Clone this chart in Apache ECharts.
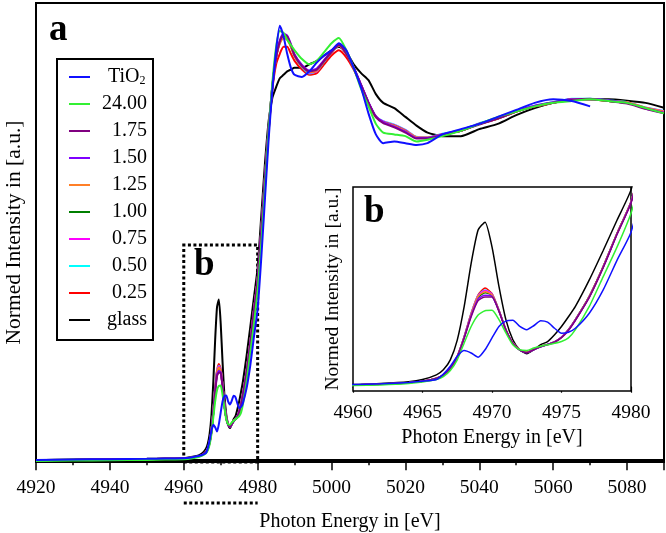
<!DOCTYPE html>
<html>
<head>
<meta charset="utf-8">
<script src="https://cdn.jsdelivr.net/npm/echarts@6/dist/echarts.min.js"></script>
<style>html,body{margin:0;padding:0;background:#fff}#c{width:666px;height:533px}</style>
</head>
<body>
<div id="c"></div>
<script>
// Photon energy grid (eV)
const energy = [4920,4930,4940,4950,4955,4960,4962,4964,4965,4966,4966.5,4967,4967.5,4968,4968.5,4969,4969.5,4970,4970.5,4971,4971.5,4972,4972.5,4973,4973.5,4974,4974.5,4975,4975.5,4976,4977,4978,4979,4980,4981,4982,4983,4984,4985,4986,4987,4988,4989,4990,4992,4994,4996,4998,5000,5002,5004,5006,5008,5010,5012,5014,5017,5020,5023,5026,5030,5035,5040,5045,5050,5055,5060,5065,5070,5075,5080,5085,5090];

const seriesNames = ['TiO2','24.00','1.75','1.50','1.25','1.00','0.75','0.50','0.25','glass'];
const seriesColors = ['#1010ff','#33f033','#800080','#7f00ff','#ff7f27','#007f00','#ff00ff','#00ffff','#ff0000','#000000'];

const tio2 = [0.001,0.002,0.003,0.004,0.005,0.006,0.008,0.012,0.015,0.020,0.035,0.057,0.085,0.101,0.094,0.082,0.103,0.136,0.168,0.183,0.185,0.168,0.159,0.170,0.184,0.180,0.163,0.149,0.152,0.163,0.205,0.270,0.353,0.431,0.580,0.750,0.920,1.060,1.170,1.240,1.210,1.160,1.120,1.100,1.094,1.110,1.135,1.155,1.170,1.190,1.170,1.120,1.063,0.990,0.930,0.905,0.910,0.905,0.900,0.905,0.930,0.945,0.960,0.980,1.000,1.020,1.030,1.025,1.010,null,null,null,null];
const s2400 = [-0.002,-0.001,0.000,0.001,0.002,0.003,0.005,0.009,0.013,0.020,0.028,0.045,0.075,0.122,0.168,0.200,0.212,0.213,0.187,0.150,0.117,0.103,0.101,0.108,0.113,0.117,0.121,0.126,0.136,0.159,0.224,0.307,0.390,0.484,0.620,0.780,0.940,1.080,1.180,1.225,1.220,1.200,1.185,1.170,1.145,1.130,1.140,1.165,1.190,1.205,1.170,1.120,1.060,1.010,0.960,0.935,0.930,0.925,0.910,0.915,0.925,0.940,0.960,0.980,0.995,1.010,1.020,1.025,1.030,1.025,1.020,1.005,0.990];
const s175 = [0.000,0.001,0.002,0.003,0.004,0.005,0.007,0.011,0.015,0.023,0.032,0.050,0.082,0.135,0.195,0.240,0.250,0.250,0.210,0.158,0.121,0.102,0.095,0.103,0.111,0.117,0.124,0.137,0.157,0.185,0.249,0.332,0.425,0.512,0.655,0.805,0.945,1.065,1.150,1.195,1.215,1.210,1.185,1.155,1.125,1.110,1.115,1.140,1.165,1.185,1.160,1.120,1.070,1.020,0.980,0.962,0.950,0.935,0.918,0.918,0.928,0.940,0.958,0.975,0.995,1.010,1.020,1.028,1.032,1.025,1.018,1.003,0.990];
const s150 = [0.000,0.001,0.002,0.003,0.004,0.005,0.007,0.011,0.015,0.023,0.032,0.051,0.083,0.137,0.198,0.245,0.255,0.252,0.211,0.158,0.121,0.102,0.095,0.103,0.111,0.118,0.125,0.138,0.158,0.186,0.250,0.333,0.426,0.514,0.658,0.808,0.948,1.068,1.152,1.198,1.218,1.212,1.188,1.158,1.128,1.112,1.118,1.142,1.168,1.188,1.162,1.122,1.072,1.022,0.982,0.965,0.952,0.938,0.920,0.920,0.930,0.942,0.960,0.977,0.997,1.012,1.022,1.030,1.030,1.027,1.020,1.004,0.992];
const s125 = [0.000,0.001,0.002,0.003,0.004,0.005,0.007,0.011,0.015,0.024,0.033,0.052,0.084,0.139,0.202,0.252,0.265,0.256,0.213,0.159,0.122,0.103,0.096,0.104,0.112,0.118,0.125,0.138,0.159,0.187,0.252,0.335,0.428,0.516,0.660,0.810,0.950,1.070,1.150,1.190,1.205,1.200,1.180,1.152,1.124,1.108,1.112,1.140,1.166,1.184,1.160,1.120,1.070,1.020,0.980,0.965,0.955,0.940,0.922,0.921,0.930,0.940,0.960,0.975,0.995,1.010,1.020,1.030,1.030,1.025,1.022,1.006,0.995];
const s100 = [0.000,0.001,0.002,0.003,0.004,0.005,0.007,0.011,0.015,0.024,0.033,0.052,0.084,0.138,0.200,0.249,0.262,0.255,0.212,0.158,0.121,0.102,0.096,0.104,0.112,0.118,0.125,0.138,0.159,0.187,0.252,0.335,0.428,0.515,0.660,0.810,0.950,1.070,1.150,1.192,1.210,1.205,1.182,1.155,1.126,1.108,1.113,1.140,1.166,1.185,1.160,1.120,1.070,1.020,0.980,0.965,0.955,0.940,0.920,0.920,0.930,0.940,0.960,0.975,0.995,1.010,1.020,1.030,1.030,1.025,1.020,1.005,0.993];
const s075 = [0.000,0.001,0.002,0.003,0.004,0.005,0.007,0.011,0.015,0.024,0.033,0.052,0.085,0.140,0.204,0.254,0.268,0.258,0.213,0.159,0.122,0.103,0.096,0.104,0.112,0.118,0.125,0.138,0.159,0.187,0.252,0.335,0.428,0.516,0.660,0.810,0.950,1.070,1.150,1.195,1.212,1.208,1.184,1.155,1.125,1.106,1.110,1.140,1.165,1.185,1.160,1.120,1.070,1.020,0.980,0.967,0.957,0.942,0.922,0.921,0.931,0.941,0.961,0.976,0.996,1.011,1.021,1.031,1.031,1.026,1.021,1.006,0.996];
const s050 = [0.000,0.001,0.002,0.003,0.004,0.005,0.007,0.011,0.015,0.024,0.033,0.052,0.085,0.140,0.205,0.255,0.270,0.258,0.214,0.159,0.122,0.103,0.096,0.104,0.112,0.118,0.125,0.138,0.159,0.187,0.252,0.335,0.428,0.516,0.660,0.810,0.950,1.070,1.150,1.195,1.212,1.205,1.182,1.152,1.122,1.104,1.110,1.138,1.164,1.184,1.160,1.120,1.070,1.020,0.980,0.968,0.958,0.943,0.923,0.922,0.932,0.942,0.962,0.977,0.997,1.012,1.022,1.032,1.032,1.027,1.022,1.007,0.997];
const s025 = [0.000,0.001,0.002,0.003,0.004,0.005,0.007,0.011,0.015,0.024,0.033,0.052,0.085,0.140,0.205,0.256,0.275,0.260,0.214,0.159,0.122,0.103,0.096,0.104,0.112,0.118,0.125,0.138,0.159,0.187,0.252,0.335,0.428,0.516,0.655,0.800,0.940,1.060,1.130,1.160,1.180,1.180,1.160,1.140,1.115,1.100,1.105,1.130,1.155,1.170,1.150,1.115,1.070,1.020,0.980,0.965,0.955,0.940,0.920,0.920,0.930,0.940,0.960,0.975,0.995,1.010,1.020,1.030,1.030,1.025,1.020,1.005,0.995];
const glass = [0.000,0.002,0.003,0.004,0.005,0.006,0.009,0.014,0.020,0.033,0.047,0.075,0.130,0.224,0.344,0.437,0.459,0.390,0.280,0.187,0.131,0.103,0.092,0.103,0.117,0.126,0.145,0.168,0.195,0.224,0.298,0.380,0.465,0.549,0.700,0.850,0.970,1.035,1.065,1.090,1.100,1.110,1.115,1.120,1.120,1.130,1.140,1.155,1.170,1.180,1.165,1.130,1.105,1.085,1.045,1.020,1.005,0.980,0.955,0.935,0.925,0.925,0.945,0.960,0.985,1.005,1.020,1.030,1.030,1.030,1.026,1.020,1.006];

const seriesValues = [tio2, s2400, s175, s150, s125, s100, s075, s050, s025, glass];

const mainTicks = {min: 4920, max: 5090, interval: 20};
const insetTicks = {min: 4960, max: 4980, interval: 5};

const FONT = '"Liberation Serif", "Times New Roman", serif';
const chart = echarts.init(document.getElementById('c'), null, {renderer: 'canvas'});

const series = [];
// draw in reverse legend order so TiO2 is on top
for (let k = seriesNames.length - 1; k >= 0; k--) {
  const pts = energy.map((x, i) => [x, seriesValues[k][i]]);
  series.push({
    name: seriesNames[k], type: 'line', xAxisIndex: 0, yAxisIndex: 0,
    data: pts, showSymbol: false, smooth: 0.2, connectNulls: false,
    lineStyle: {color: seriesColors[k], width: 2}, itemStyle: {color: seriesColors[k]},
    emphasis: {disabled: true}, z: 3
  });
  series.push({
    name: seriesNames[k], type: 'line', xAxisIndex: 1, yAxisIndex: 1,
    data: pts, showSymbol: false, smooth: 0.2, clip: true,
    lineStyle: {color: seriesColors[k], width: 1.5}, itemStyle: {color: seriesColors[k]},
    emphasis: {disabled: true}, z: 5
  });
}
// dotted zoom box on the main plot
series.push({
  type: 'line', xAxisIndex: 0, yAxisIndex: 0, data: [], silent: true,
  markArea: {
    silent: true,
    itemStyle: {color: 'rgba(0,0,0,0)', borderColor: '#000', borderWidth: 3, borderType: [3, 2.5]},
    data: [[{coord: [4960, -0.005]}, {coord: [4980, 0.614]}]]
  }
});

const legendLabel = n => n === 'TiO2' ? '{t|TiO}{s|2}' : '{v|' + n + '}';
const plain = v => String(v);

chart.setOption({
  animation: false,
  backgroundColor: '#fff',
  grid: [
    {left: 36, right: 2, top: 3, bottom: 71, outerBoundsMode: 'none', containLabel: false,
     show: true, borderColor: '#000', borderWidth: 2, backgroundColor: 'rgba(0,0,0,0)'},
    {left: 353, right: 35, top: 187, bottom: 142, outerBoundsMode: 'none', containLabel: false,
     show: true, borderColor: '#000', borderWidth: 1.5, backgroundColor: '#fff', z: 4}
  ],
  xAxis: [
    {type: 'value', gridIndex: 0, min: mainTicks.min, max: mainTicks.max, interval: mainTicks.interval,
     axisLine: {show: true, lineStyle: {color: '#000', width: 2}},
     axisTick: {show: true, length: 10, lineStyle: {color: '#000', width: 1.5}},
     minorTick: {show: true, splitNumber: 2, length: 5, lineStyle: {color: '#000', width: 1.5}},
     splitLine: {show: false},
     axisLabel: {color: '#000', fontFamily: FONT, fontSize: 19.5, margin: 16, showMaxLabel: false, formatter: plain},
     name: 'Photon Energy in [eV]', nameLocation: 'middle', nameGap: 50,
     nameTextStyle: {color: '#000', fontFamily: FONT, fontSize: 20}},
    {type: 'value', gridIndex: 1, min: insetTicks.min, max: insetTicks.max, interval: insetTicks.interval,
     axisLine: {show: true, lineStyle: {color: '#000', width: 1.5}},
     axisTick: {show: true, length: 6, lineStyle: {color: '#000', width: 1.2}},
     minorTick: {show: true, splitNumber: 2, length: 4, lineStyle: {color: '#000', width: 1.2}},
     splitLine: {show: false},
     axisLabel: {color: '#000', fontFamily: FONT, fontSize: 19.5, margin: 12, formatter: plain},
     name: 'Photon Energy in [eV]', nameLocation: 'middle', nameGap: 37,
     nameTextStyle: {color: '#000', fontFamily: FONT, fontSize: 20}}
  ],
  yAxis: [
    {type: 'value', gridIndex: 0, min: -0.005, max: 1.305,
     axisLine: {show: false}, axisTick: {show: false}, axisLabel: {show: false}, splitLine: {show: false},
     name: 'Normed Intensity in [a.u.]', nameLocation: 'middle', nameGap: 11,
     nameTextStyle: {color: '#000', fontFamily: FONT, fontSize: 21.5}},
    {type: 'value', gridIndex: 1, min: -0.012, max: 0.557,
     axisLine: {show: false}, axisTick: {show: false}, axisLabel: {show: false}, splitLine: {show: false},
     name: 'Normed Intensity in [a.u.]', nameLocation: 'middle', nameGap: 10,
     nameTextStyle: {color: '#000', fontFamily: FONT, fontSize: 19.5}}
  ],
  legend: {
    orient: 'vertical', left: 57, top: 59, padding: [8, 6, 10, 12], itemGap: 7,
    itemWidth: 21, itemHeight: 2, icon: 'rect',
    borderColor: '#000', borderWidth: 2, backgroundColor: '#fff', z: 10,
    selectedMode: false,
    data: seriesNames,
    formatter: legendLabel,
    textStyle: {
      color: '#000', fontFamily: FONT, fontSize: 20,
      rich: {
        v: {fontFamily: FONT, fontSize: 20, width: 52, align: 'right', lineHeight: 19, color: '#000'},
        t: {fontFamily: FONT, fontSize: 20, lineHeight: 19, padding: [0, 0, 0, 13], color: '#000'},
        s: {fontFamily: FONT, fontSize: 12, lineHeight: 19, verticalAlign: 'bottom', color: '#000'}
      }
    }
  },
  series: series
});

// decorations: panel letters and the dotted bracket under the axis
const xa = chart.convertToPixel({xAxisIndex: 0}, 4960);
const xb = chart.convertToPixel({xAxisIndex: 0}, 4980);
chart.setOption({
  graphic: [
    {type: 'text', left: 49, top: 12, z: 20, style: {text: 'a', font: 'bold 37px ' + FONT, fill: '#000'}},
    {type: 'text', left: 194, top: 247, z: 20, style: {text: 'b', font: 'bold 37px ' + FONT, fill: '#000'}},
    {type: 'text', left: 364, top: 194, z: 20, style: {text: 'b', font: 'bold 37px ' + FONT, fill: '#000'}},
    {type: 'line', z: 20, shape: {x1: xa, y1: 503, x2: xb, y2: 503},
     style: {stroke: '#000', lineWidth: 3, lineDash: [3, 2.5]}}
  ]
});
</script>
</body>
</html>
